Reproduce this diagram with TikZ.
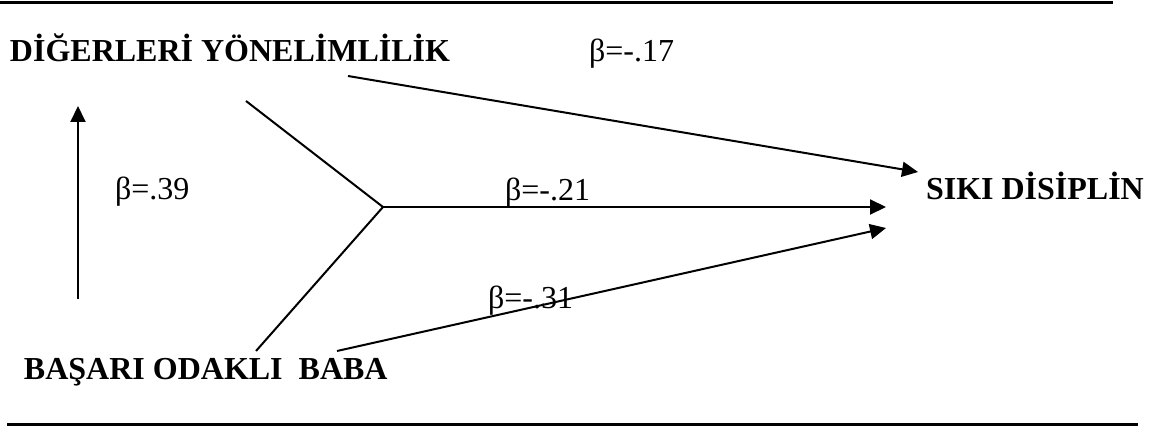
\documentclass[tikz,border=0pt]{standalone}
\usepackage{fontspec}
\setmainfont{Liberation Serif}
\usetikzlibrary{arrows.meta}
\begin{document}
\begin{tikzpicture}[x=0.5pt, y=-0.5pt, line width=1pt,
    varname/.style={anchor=base west, inner sep=0pt, font=\fontsize{16}{19}\selectfont\bfseries},
    coef/.style={anchor=base west, inner sep=0pt, font=\fontsize{16}{19}\selectfont},
    >={Triangle[length=8pt, width=7.5pt]}]
    \useasboundingbox (0,0) rectangle (1155,427);
    % rules
    \draw[line width=1.5pt] (0,3) -- (1113,3);
    \draw[line width=1.5pt] (7,424) -- (1138,424);
    % variables
    \node[varname] (diger) at (9,62) {DİĞERLERİ YÖNELİMLİLİK};
    \node[varname] (siki) at (925,199) {SIKI DİSİPLİN};
    \node[varname] (basari) at (23,379) {BAŞARI ODAKLI~~BABA};
    % coefficients
    \node[coef] (b17) at (588,62) {β=-.17};
    \node[coef] (b39) at (114,199) {β=.39};
    \node[coef] (b21) at (504,201) {β=-.21};
    \node[coef] (b31) at (487,308) {β=-.31};
    % end points
    \coordinate (digerout) at (348,76);
    \coordinate (digerin) at (246,101);
    \coordinate (basout) at (256,351);
    \coordinate (basout2) at (337,351);
    \coordinate (vbot) at (78,299);
    \coordinate (vtop) at (78,106);
    \coordinate (junc) at (383,207);
    \coordinate (sikiin1) at (918,172);
    \coordinate (sikiin2) at (886,207);
    \coordinate (sikiin3) at (886,228);
    % paths
    \draw[->] (digerout) -- (sikiin1);
    \draw[->] (vbot) -- (vtop);
    \draw (digerin) -- (junc) -- (basout);
    \draw[->] (junc) -- (sikiin2);
    \draw[->] (basout2) -- (sikiin3);
\end{tikzpicture}
\end{document}
